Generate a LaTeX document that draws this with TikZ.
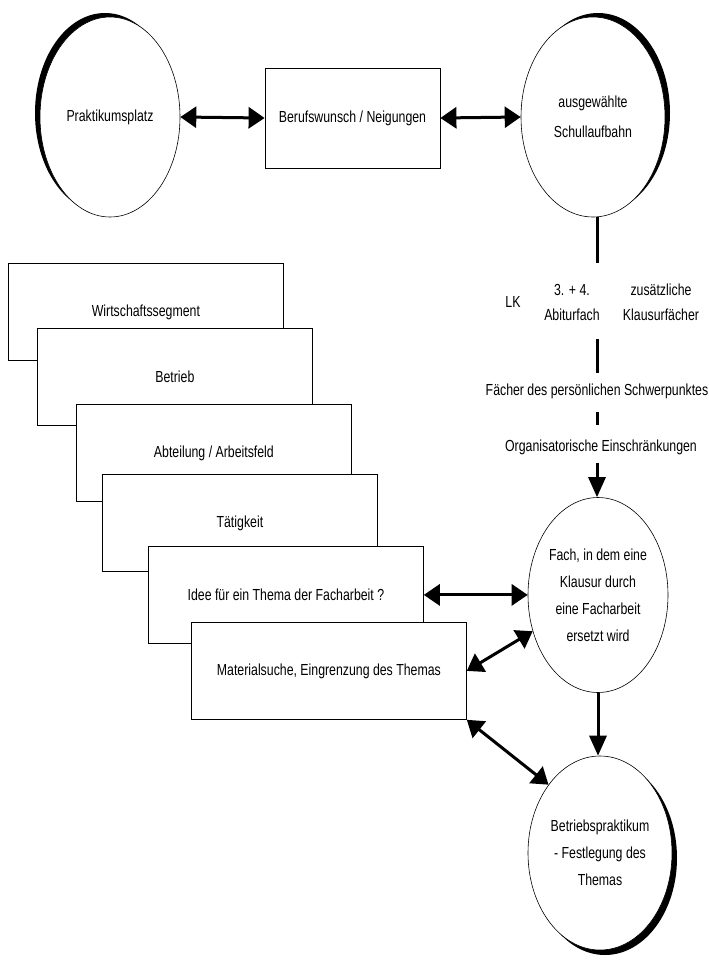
\documentclass[tikz,border=0pt]{standalone}
\usepackage{fontspec}
\setmainfont{Liberation Sans}[FakeStretch=0.77]
\usetikzlibrary{arrows.meta,shapes.geometric}
\begin{document}
\begin{tikzpicture}[x=1pt,y=-1pt,
  txt/.style={font=\fontsize{16}{27}\selectfont, align=center, inner sep=0pt},
  boxnode/.style={draw, line width=0.8pt, fill=white, minimum width=275pt, minimum height=97pt,
    inner sep=0pt, anchor=north west, font=\fontsize{16}{20}\selectfont},
  ell/.style={draw, ellipse, line width=0.6pt, fill=white, inner sep=0pt,
    font=\fontsize{16}{27}\selectfont, align=center},
  conn/.style={line width=3pt},
  biarrow/.style={line width=3pt, {Triangle[length=16pt,width=21pt]}-{Triangle[length=16pt,width=21pt]}},
  onearrow/.style={line width=3pt, -{Triangle[length=20pt,width=17pt]}}
]
\useasboundingbox (0,0) rectangle (709,964);

% ---- top row ----
\fill (105,113) ellipse [x radius=70, y radius=100];
\node[ell, minimum width=140pt, minimum height=200pt] (prak) at (110,117) {Praktikumsplatz};

\node[draw, line width=0.8pt, minimum width=175pt, minimum height=100pt, inner sep=0pt,
  font=\fontsize{16}{20}\selectfont] (beruf) at (352.5,118) {Berufswunsch / Neigungen};

\fill (598,113) ellipse [x radius=72, y radius=100];
\node[ell, minimum width=144pt, minimum height=200pt, font=\fontsize{16}{30}\selectfont] (schul) at (593,117) {ausgewählte\\Schullaufbahn};

\draw[biarrow] (prak.east) -- (beruf.west);
\draw[biarrow] (beruf.east) -- (schul.west);

% ---- chain of criteria ----
\coordinate (c1) at (597,263);
\coordinate (c2a) at (597,339);
\coordinate (c2b) at (597,373);
\coordinate (c3a) at (597,412);
\coordinate (c3b) at (597,425);
\coordinate (c4) at (597,463);

\node[txt] (lk) at (513,302) {LK};
\node[txt, font=\fontsize{16}{25}\selectfont] (abi) at (572,302) {3. + 4.\\Abiturfach};
\node[txt, font=\fontsize{16}{25}\selectfont] (zus) at (661,302) {zusätzliche\\Klausurfächer};
\node[txt] (schwer) at (597,391) {Fächer des persönlichen Schwerpunktes};
\node[txt] (orga) at (601,447) {Organisatorische Einschränkungen};

\draw[conn] (schul.south -| c1) -- (c1);
\draw[conn] (c2a) -- (c2b);
\draw[conn] (c3a) -- (c3b);

% ---- Fach ellipse ----
\node[ell, minimum width=140pt, minimum height=195pt] (fach) at (598,595)
  {Fach, in dem eine\\Klausur durch\\eine Facharbeit\\ersetzt wird};
\draw[onearrow] (c4) -- (c4 |- fach.north);

% ---- Betriebspraktikum ellipse ----
\fill (605,858) ellipse [x radius=72, y radius=97];
\node[ell, minimum width=144pt, minimum height=194pt] (betr) at (600,853)
  {Betriebspraktikum\\- Festlegung des\\Themas};
\draw[onearrow] (fach.south) -- (fach.south |- betr.north);

% ---- stacked boxes ----
\node[boxnode] (b1) at (8,263) {Wirtschaftssegment};
\node[boxnode] (b2) at (37,328) {Betrieb};
\node[boxnode] (b3) at (76,404) {Abteilung / Arbeitsfeld};
\node[boxnode] (b4) at (102,474) {Tätigkeit};
\node[boxnode] (b5) at (148,546) {Idee für ein Thema der Facharbeit ?};
\node[boxnode] (b6) at (191,622) {Materialsuche, Eingrenzung des Themas};

\draw[biarrow] (b5.east) -- (fach.west |- b5.east);
\draw[biarrow] (b6.east) -- (fach.209);
\draw[biarrow] (b6.south east) -- (betr.127);
\end{tikzpicture}
\end{document}
